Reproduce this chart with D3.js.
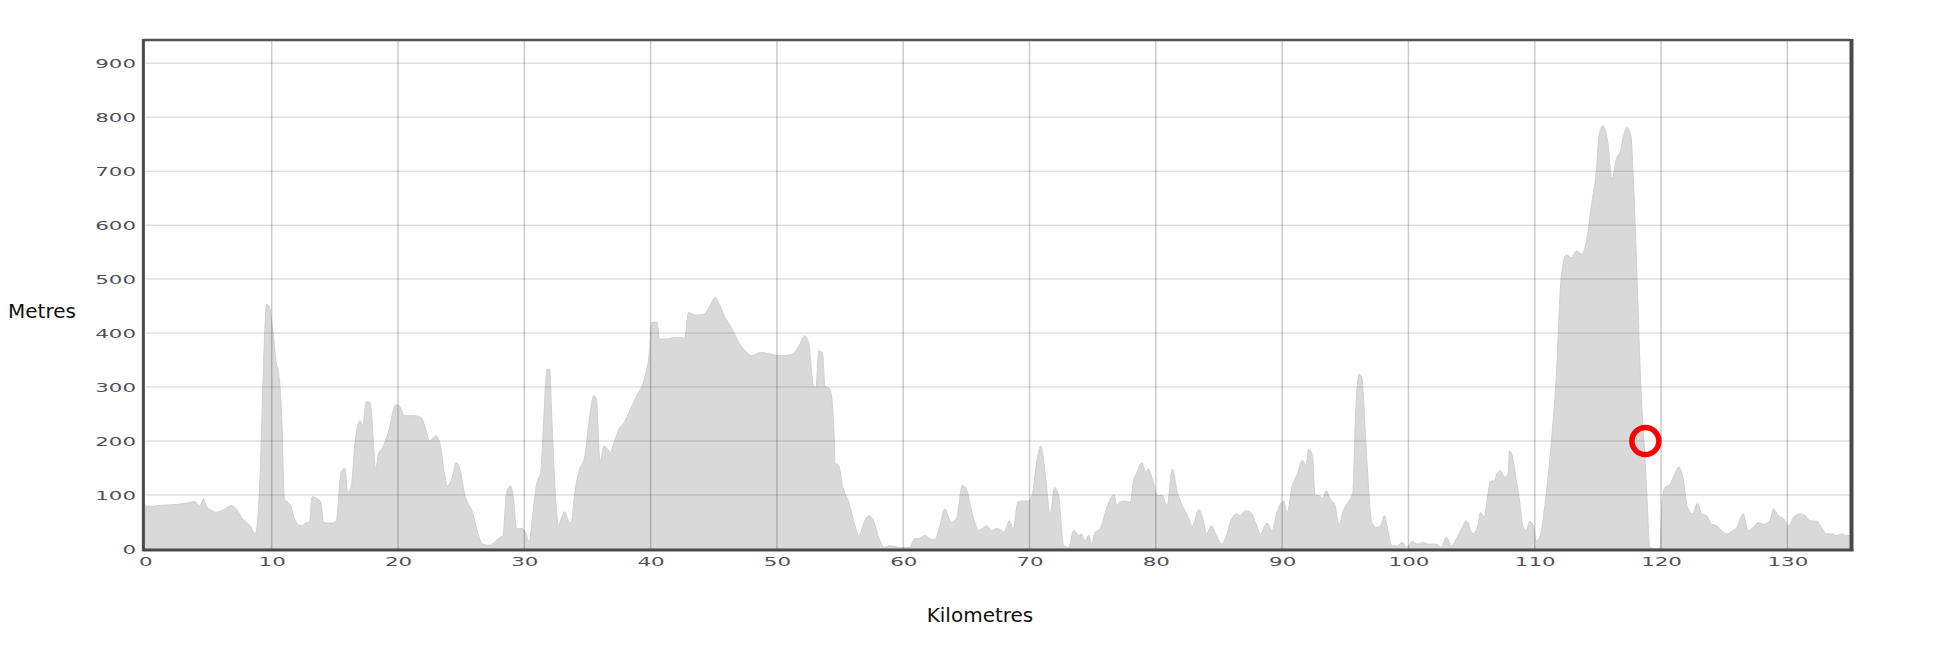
<!DOCTYPE html>
<html>
<head>
<meta charset="utf-8">
<script src="https://cdn.jsdelivr.net/npm/d3@7"></script>
<style>
  html, body { margin: 0; padding: 0; background: #fff; }
  svg { display: block; }
</style>
</head>
<body>
<svg id="chart" width="1948" height="652"></svg>
<script>
// ---- data ----
const distanceKm = [
  0,0.5,1.2,2.2,3.0,3.5,3.9,4.3,4.6,4.8,5.2,5.6,6.2,6.8,7.2,7.7,8.3,8.7,8.9,9.1,
  9.3,9.6,9.8,10.1,10.4,10.5,10.8,11.0,11.3,11.5,11.8,12.3,12.8,13.0,13.2,13.6,13.9,14.1,14.7,15.1,
  15.5,15.8,16.0,16.3,16.6,17.0,17.2,17.5,17.8,18.1,18.2,18.5,18.7,19.3,19.8,20.1,20.5,21.2,21.8,22.2,
  22.5,23.0,23.3,23.7,23.9,24.3,24.6,24.9,25.3,25.9,26.3,26.7,27.3,27.7,28.1,28.3,28.6,28.9,29.1,29.4,
  29.8,30.1,30.4,30.6,31.0,31.3,31.5,31.8,32.0,32.2,32.5,32.7,33.0,33.2,33.5,33.7,34.0,34.3,34.8,35.1,
  35.5,35.7,36.0,36.3,36.6,36.8,37.1,37.5,37.9,38.4,38.9,39.5,39.9,40.1,40.5,40.7,41.3,41.9,42.3,42.7,
  43.0,43.6,44.2,44.7,45.1,45.3,45.9,46.4,46.9,47.5,48.0,48.7,49.5,50.2,50.9,51.4,51.8,52.2,52.5,52.9,
  53.1,53.3,53.6,53.8,54.2,54.5,54.6,54.9,55.2,55.7,56.1,56.5,56.9,57.3,57.7,58.1,58.5,59.0,59.7,60.5,
  60.9,61.3,61.7,62.1,62.5,62.9,63.3,63.8,64.2,64.7,65.0,65.5,66.0,66.6,67.0,67.4,67.8,68.0,68.4,68.7,
  69.1,69.5,69.9,70.2,70.6,70.9,71.1,71.4,71.6,72.0,72.3,72.7,73.1,73.5,73.9,74.1,74.4,74.7,74.9,75.2,
  75.6,76.0,76.4,76.7,76.9,77.2,77.6,78.0,78.2,78.5,78.9,79.2,79.4,79.8,80.1,80.5,80.9,81.3,81.7,82.1,
  82.5,82.9,83.4,83.8,84.0,84.4,84.8,85.2,85.6,86.0,86.4,86.7,87.1,87.5,87.9,88.3,88.8,89.2,89.6,90.1,
  90.4,90.8,91.2,91.6,91.9,92.1,92.4,92.6,92.9,93.2,93.5,93.8,94.2,94.5,94.8,95.2,95.6,95.8,96.1,96.3,
  96.6,96.9,97.1,97.5,97.8,98.1,98.3,98.7,99.1,99.5,99.9,100.3,100.7,101.2,101.6,102.2,102.6,103.0,103.4,103.8,
  104.2,104.6,105.1,105.5,105.7,106.0,106.3,106.5,106.8,107.0,107.3,107.6,107.9,108.0,108.3,108.5,108.8,109.0,109.3,109.6,
  109.9,110.1,110.4,110.8,111.0,111.3,111.7,112.1,112.5,112.9,113.3,113.7,114.1,114.5,114.9,115.1,115.4,115.8,116.1,116.5,
  116.8,117.0,117.3,117.6,117.8,118.1,118.4,118.7,118.9,119.1,119.9,120.1,120.3,120.7,121.1,121.4,121.7,122.1,122.5,122.9,
  123.2,123.6,124.0,124.4,124.8,125.2,125.6,126.0,126.5,126.9,127.3,127.7,128.1,128.6,128.9,129.3,129.7,130.1,130.5,131.0,
  131.4,131.8,132.3,132.7,133.1,133.5,133.9,134.3,134.7,135.0
];
const elevationM = [
  80,79,81,82,84,86,88,80,93,80,72,68,73,80,74,56,43,28,56,150,
  302,453,450,401,340,333,241,93,86,80,56,43,49,50,97,93,86,49,48,52,
  142,149,105,117,197,238,228,273,271,179,148,179,185,222,267,265,247,247,244,222,
  200,210,197,136,117,133,160,148,99,68,31,9,7,14,22,25,105,117,102,37,
  38,31,12,49,123,142,222,333,333,228,86,43,62,69,52,48,105,142,173,231,
  284,278,160,191,185,179,197,222,234,259,284,315,364,420,420,389,389,392,392,390,
  438,433,435,450,466,460,429,410,386,367,358,364,361,358,359,364,379,395,383,302,
  299,367,364,302,296,228,160,154,117,86,49,25,49,62,49,19,3,6,3,3,
  19,20,25,19,17,43,74,49,56,118,111,62,34,43,34,38,34,31,52,37,
  88,89,89,99,167,191,167,105,62,114,99,6,3,34,25,28,15,26,9,31,
  38,68,93,100,80,88,89,86,123,142,160,142,148,123,99,99,80,148,105,80,
  62,43,73,49,28,43,25,9,26,56,65,62,71,68,49,28,48,34,68,89,
  68,117,139,164,154,185,173,99,99,93,108,93,80,43,68,86,105,241,324,318,
  210,93,49,40,44,62,43,6,6,12,3,14,9,12,9,9,3,22,6,19,
  37,52,28,43,68,59,102,126,126,139,145,133,139,182,164,133,89,49,34,51,
  43,15,22,80,120,194,318,503,545,540,552,546,571,639,706,768,784,750,685,725,
  737,762,781,768,690,500,300,180,90,3,0,89,114,120,139,152,136,77,65,85,
  65,62,46,43,34,28,33,40,65,34,40,49,46,51,74,62,56,43,59,65,
  62,52,52,40,28,28,25,28,25,25
];
const xTicks = [0,10,20,30,40,50,60,70,80,90,100,110,120,130];
const yTicks = [0,100,200,300,400,500,600,700,800,900];
const markerPoint = [118.76, 200];
const yLabel = "Metres";
const xLabel = "Kilometres";

// ---- layout ----
const svg = d3.select("#chart");
const x = d3.scaleLinear().domain([0, 135]).range([145.4, 1850.5]);
const y = d3.scaleLinear().domain([0, 943]).range([549, 40]);
const data = distanceKm.map((d, i) => ({ km: d, m: elevationM[i] }));

// area
const area = d3.area()
  .x(d => x(d.km))
  .y0(y(0))
  .y1(d => y(d.m))
  .curve(d3.curveMonotoneX);
svg.append("path")
  .datum(data)
  .attr("d", area)
  .attr("fill", "#d9d9d9")
  .attr("stroke", "#d0d0d0")
  .attr("stroke-width", 1);

// grid
svg.append("g").selectAll("line").data(yTicks.filter(t => t > 0)).join("line")
  .attr("x1", x(0)).attr("x2", x(135))
  .attr("y1", d => y(d)).attr("y2", d => y(d))
  .attr("stroke", "rgba(0,0,0,0.12)").attr("stroke-width", 1.5);
svg.append("g").selectAll("line").data(xTicks.filter(t => t > 0)).join("line")
  .attr("x1", d => x(d)).attr("x2", d => x(d))
  .attr("y1", y(943)).attr("y2", y(0))
  .attr("stroke", "rgba(0,0,0,0.2)").attr("stroke-width", 1.5);

// frame
svg.append("line").attr("x1", x(0) - 2).attr("x2", x(135)).attr("y1", y(943)).attr("y2", y(943))
  .attr("stroke", "#555").attr("stroke-width", 2.5);
svg.append("line").attr("x1", x(135) + 1).attr("x2", x(135) + 1).attr("y1", y(943) - 1).attr("y2", y(0) + 1)
  .attr("stroke", "#4a4a4a").attr("stroke-width", 4);
svg.append("line").attr("x1", x(0) - 2).attr("x2", x(0) - 2).attr("y1", y(943) - 1).attr("y2", y(0) + 2)
  .attr("stroke", "#4a4a4a").attr("stroke-width", 3);
svg.append("line").attr("x1", x(0) - 3).attr("x2", x(135) + 3).attr("y1", y(0) + 1).attr("y2", y(0) + 1)
  .attr("stroke", "#4a4a4a").attr("stroke-width", 3);

// axes
const digitW = 13.6;
const yAxis = d3.axisLeft(y).tickValues(yTicks).tickSize(0).tickPadding(0);
const gy = svg.append("g").attr("transform", "translate(136,0)").call(yAxis);
gy.select(".domain").remove();
gy.selectAll("text")
  .attr("font-family", "DejaVu Sans")
  .attr("font-size", 11.5)
  .attr("fill", "#505058")
  .attr("dy", "0.36em")
  .attr("textLength", d => String(d).length * digitW)
  .attr("lengthAdjust", "spacingAndGlyphs");

const xAxis = d3.axisBottom(x).tickValues(xTicks).tickSize(0).tickPadding(0);
const gx = svg.append("g").attr("transform", "translate(0,566)").call(xAxis);
gx.select(".domain").remove();
gx.selectAll("text")
  .attr("font-family", "DejaVu Sans")
  .attr("font-size", 11.5)
  .attr("fill", "#505058")
  .attr("dy", "0")
  .attr("textLength", d => String(d).length * digitW)
  .attr("lengthAdjust", "spacingAndGlyphs");

// axis titles
svg.append("text").text(yLabel)
  .attr("x", 8).attr("y", 318)
  .attr("font-family", "DejaVu Sans").attr("font-size", 20).attr("fill", "#111");
svg.append("text").text(xLabel)
  .attr("x", 980).attr("y", 622).attr("text-anchor", "middle")
  .attr("font-family", "DejaVu Sans").attr("font-size", 20).attr("fill", "#111");

// marker
svg.append("circle")
  .attr("cx", x(markerPoint[0])).attr("cy", y(markerPoint[1]))
  .attr("r", 13.5).attr("fill", "none")
  .attr("stroke", "#ff0000").attr("stroke-width", 5.5);
</script>
</body>
</html>
